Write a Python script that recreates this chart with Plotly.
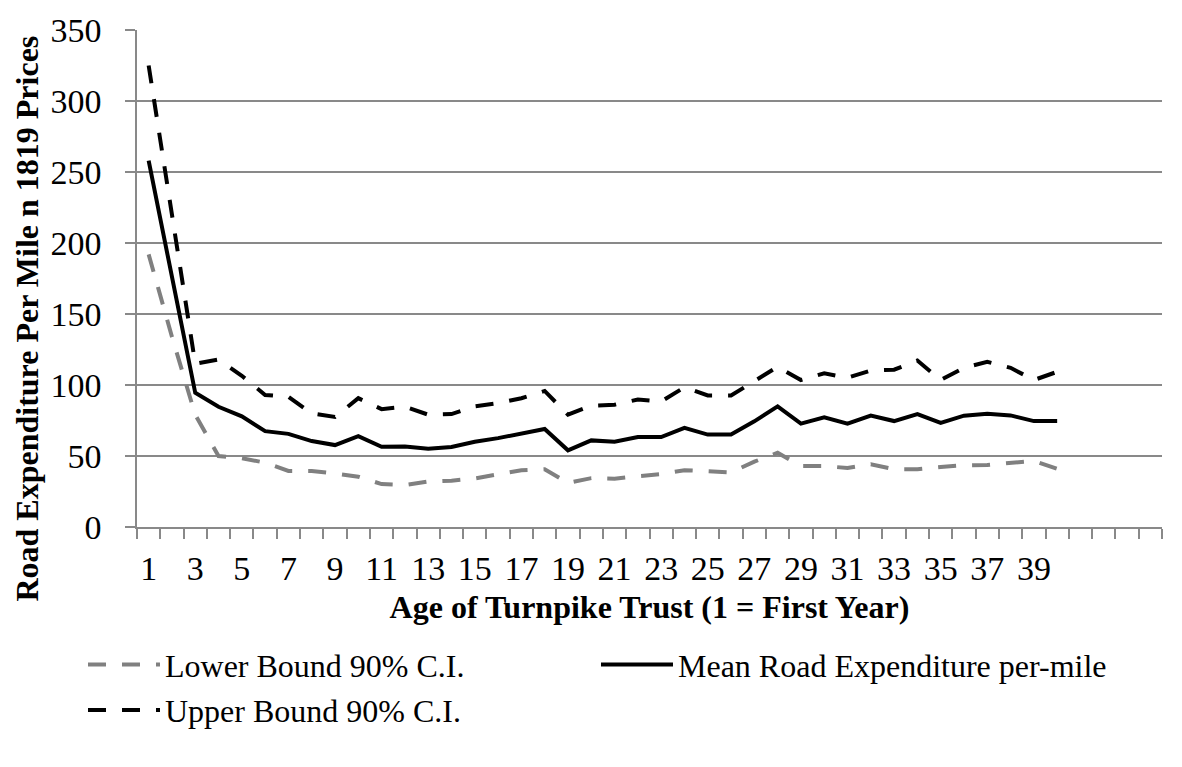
import plotly.graph_objects as go

# Age of turnpike trust (years since founding)
age = list(range(1, 41))

# Mean road expenditure per mile (1819 prices)
mean_exp = [258, 177, 94.5, 84.7, 77.9, 67.5, 65.6, 60.5, 57.7, 64.0,
            56.5, 56.7, 55.1, 56.3, 60.0, 62.6, 65.5, 69.0, 54.0, 61.0,
            60.0, 63.3, 63.3, 69.8, 65.1, 65.1, 74.4, 84.9, 72.8, 77.2,
            72.8, 78.4, 74.6, 79.5, 73.3, 78.4, 79.8, 78.6, 74.6, 74.6]

# 90% confidence interval bounds
lower_ci = [192, 134, 79, 50, 48.4, 45.3, 39.5, 39.5, 37.7, 35.4,
            30.2, 29.5, 32.0, 32.6, 34.2, 37.2, 40.0, 40.7, 31.0, 34.4,
            34.0, 35.8, 37.2, 40.0, 39.0, 38.5, 46.0, 52.3, 43.0, 43.0,
            41.5, 44.2, 40.7, 40.7, 42.3, 43.5, 43.7, 45.0, 46.5, 41.0]

upper_ci = [325, 220, 115, 118, 106.5, 93.0, 91.7, 80.0, 77.5, 90.7,
            83.0, 84.7, 79.1, 79.5, 84.9, 87.2, 90.7, 95.8, 79.1, 85.4,
            86.1, 89.8, 88.4, 98.4, 92.6, 92.6, 102.8, 112.8, 103.5, 108.2,
            105.1, 110.2, 110.8, 117.2, 103.5, 112.1, 116.3, 112.1, 103.5, 109.3]

n_slots = 44                        # category slots on the x axis
x_labels = list(range(1, 40, 2))    # labelled ages
y_ticks = list(range(0, 351, 50))

FONT = "Liberation Serif, Times New Roman, serif"
AXIS_GREY = "#898989"
DASH = "18px,16px"

fig = go.Figure()
fig.add_trace(go.Scatter(
    x=age, y=lower_ci, mode="lines", name="Lower Bound 90% C.I.",
    line=dict(color="#808080", width=4, dash=DASH), legend="legend"))
fig.add_trace(go.Scatter(
    x=age, y=mean_exp, mode="lines", name="Mean Road Expenditure per-mile",
    line=dict(color="black", width=4), legend="legend2"))
fig.add_trace(go.Scatter(
    x=age, y=upper_ci, mode="lines", name="Upper Bound 90% C.I.",
    line=dict(color="black", width=4, dash=DASH), legend="legend3"))

legend_common = dict(orientation="h", xanchor="left", yanchor="middle",
                     font=dict(family=FONT, size=32, color="black"),
                     bgcolor="rgba(0,0,0,0)", itemwidth=72)

fig.update_layout(
    width=1182, height=767,
    margin=dict(l=137, r=20, t=25, b=240),
    plot_bgcolor="white", paper_bgcolor="white",
    font=dict(family=FONT, color="black"),
    showlegend=True,
    legend=dict(x=-0.0527, y=-0.277, **legend_common),
    legend2=dict(x=0.4478, y=-0.277, **legend_common),
    legend3=dict(x=-0.0527, y=-0.3685, **legend_common),
    xaxis=dict(
        range=[0.5, n_slots + 0.5],
        tickmode="array", tickvals=x_labels, ticktext=[str(v) for v in x_labels],
        ticks="", showgrid=False, zeroline=False,
        showline=True, linecolor=AXIS_GREY, linewidth=1.5,
        tickfont=dict(family=FONT, size=34, color="black"),
        ticklabelstandoff=10,
        minor=dict(tickmode="array",
                   tickvals=[i + 0.5 for i in range(0, n_slots + 1)],
                   ticks="outside", ticklen=10, tickwidth=1.5,
                   tickcolor=AXIS_GREY, showgrid=False),
        title=dict(text="<b>Age of Turnpike Trust (1 = First Year)</b>",
                   font=dict(family=FONT, size=32, color="black"), standoff=10),
    ),
    yaxis=dict(
        range=[0, 350], tickmode="array", tickvals=y_ticks,
        showgrid=True, gridcolor=AXIS_GREY, gridwidth=1.5,
        zeroline=False, showline=True, linecolor=AXIS_GREY, linewidth=1.5,
        ticks="outside", ticklen=10, tickwidth=1.5, tickcolor=AXIS_GREY,
        tickfont=dict(family=FONT, size=34, color="black"),
        ticklabelstandoff=17,
    ),
    annotations=[dict(
        text="<b>Road Expenditure Per Mile n 1819 Prices</b>",
        xref="paper", yref="paper", x=-0.107, y=0.42,
        xanchor="center", yanchor="middle", textangle=-90, showarrow=False,
        font=dict(family=FONT, size=32, color="black"))],
)

fig.write_html("out.html")
